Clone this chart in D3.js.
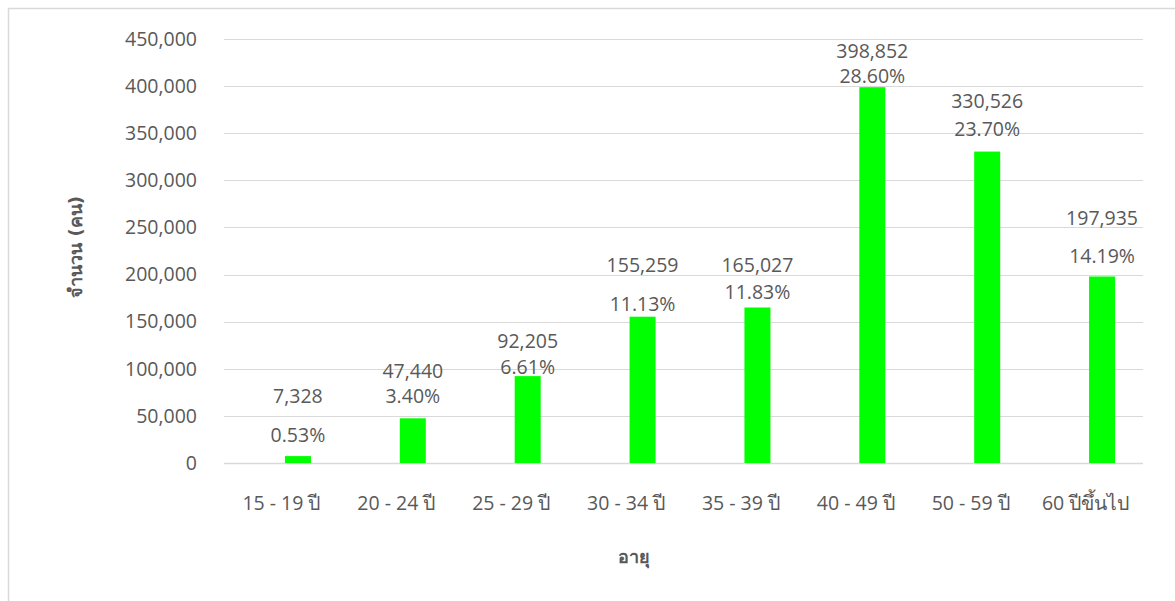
<!DOCTYPE html>
<html>
<head>
  <meta charset="utf-8">
  <title>age-chart</title>
  <style>
    * { padding: 0; margin: 0; }
    body { background: #fff; }
    svg text { font-family: "Leelawadee UI", "Open Sans", "Noto Sans", sans-serif; fill: #595959; }
    .lbl { font-family: "Leelawadee UI", "DejaVu Sans", sans-serif; }
  </style>
</head>
<body>
  <svg id="svg"></svg>
  <script src="https://cdnjs.cloudflare.com/ajax/libs/d3/7.8.5/d3.min.js"></script>
  <script>
    const categories = ['15 - 19 ปี', '20 - 24 ปี', '25 - 29 ปี', '30 - 34 ปี', '35 - 39 ปี', '40 - 49 ปี', '50 - 59 ปี', '60 ปีขึ้นไป'];
    const counts = [7328, 47440, 92205, 155259, 165027, 398852, 330526, 197935];
    const percents = ['0.53%', '3.40%', '6.61%', '11.13%', '11.83%', '28.60%', '23.70%', '14.19%'];
    const yTicks = [0, 50000, 100000, 150000, 200000, 250000, 300000, 350000, 400000, 450000];

    // label placement above each bar (px), as in the original layout
    const valueLift = [60, 47, 35, 52, 42, 36, 50, 58];
    const pctLift = [21, 22, 9, 13, 15, 11, 22, 20];

    const dim = { width: 1175, height: 601, left: 224, right: 1143, top: 39, bottom: 463 };

    const svg = d3.select('#svg').attr('width', dim.width).attr('height', dim.height);

    // outer chart border
    svg.append('rect')
      .attr('x', 8.5).attr('y', 8.5)
      .attr('width', dim.width).attr('height', dim.height)
      .attr('fill', 'none').attr('stroke', '#d9d9d9').attr('stroke-width', 1.5);

    const x = d3.scaleBand().domain(categories).range([dim.left, dim.right]);
    const y = d3.scaleLinear().domain([0, 450000]).range([dim.bottom, dim.top]);
    const fmt = d3.format(',');
    const barW = 26, barShift = 16.5;
    const fs = '19.5px';

    // gridlines
    svg.append('g').selectAll('line').data(yTicks).enter().append('line')
      .attr('x1', dim.left).attr('x2', dim.right)
      .attr('y1', d => Math.round(y(d)) + 0.5).attr('y2', d => Math.round(y(d)) + 0.5)
      .attr('stroke', '#d9d9d9').attr('stroke-width', d => d === 0 ? 1.5 : 1);

    const yAxis = d3.axisLeft(y).tickValues(yTicks).tickFormat(fmt).tickSize(0).tickPadding(27);
    svg.append('g').attr('transform', `translate(${dim.left},0)`).call(yAxis)
      .call(g => g.select('.domain').remove())
      .selectAll('text').style('font-size', fs).attr('fill', '#595959');

    const xAxis = d3.axisBottom(x).tickSize(0).tickPadding(33);
    svg.append('g').attr('transform', `translate(0,${dim.bottom})`).call(xAxis)
      .call(g => g.select('.domain').remove())
      .selectAll('text').style('font-size', fs).attr('fill', '#595959');

    const cx = (d, i) => x(categories[i]) + x.bandwidth() / 2 + barShift;

    svg.append('g').selectAll('rect').data(counts).enter().append('rect')
      .attr('x', (d, i) => cx(d, i) - barW / 2)
      .attr('y', d => y(d))
      .attr('width', barW)
      .attr('height', d => y(0) - y(d))
      .attr('fill', '#00ff00');

    svg.append('g').selectAll('text').data(counts).enter().append('text')
      .attr('x', cx)
      .attr('y', (d, i) => y(d) - valueLift[i])
      .attr('dy', '0.35em')
      .attr('text-anchor', 'middle')
      .style('font-size', fs)
      .text(d => fmt(d));

    svg.append('g').selectAll('text').data(percents).enter().append('text')
      .attr('x', (d, i) => cx(d, i))
      .attr('y', (d, i) => y(counts[i]) - pctLift[i])
      .attr('dy', '0.35em')
      .attr('text-anchor', 'middle')
      .style('font-size', fs)
      .text(d => d);

    svg.append('text')
      .attr('class', 'lbl')
      .attr('transform', 'translate(76,247) rotate(-90)')
      .attr('text-anchor', 'middle')
      .attr('dy', '0.35em')
      .style('font-size', '18px').style('font-weight', 'bold')
      .text('จำนวน (คน)');

    svg.append('text')
      .attr('class', 'lbl')
      .attr('x', 634).attr('y', 557)
      .attr('text-anchor', 'middle')
      .attr('dy', '0.35em')
      .style('font-size', '18px').style('font-weight', 'bold')
      .text('อายุ');
  </script>
</body>
</html>
